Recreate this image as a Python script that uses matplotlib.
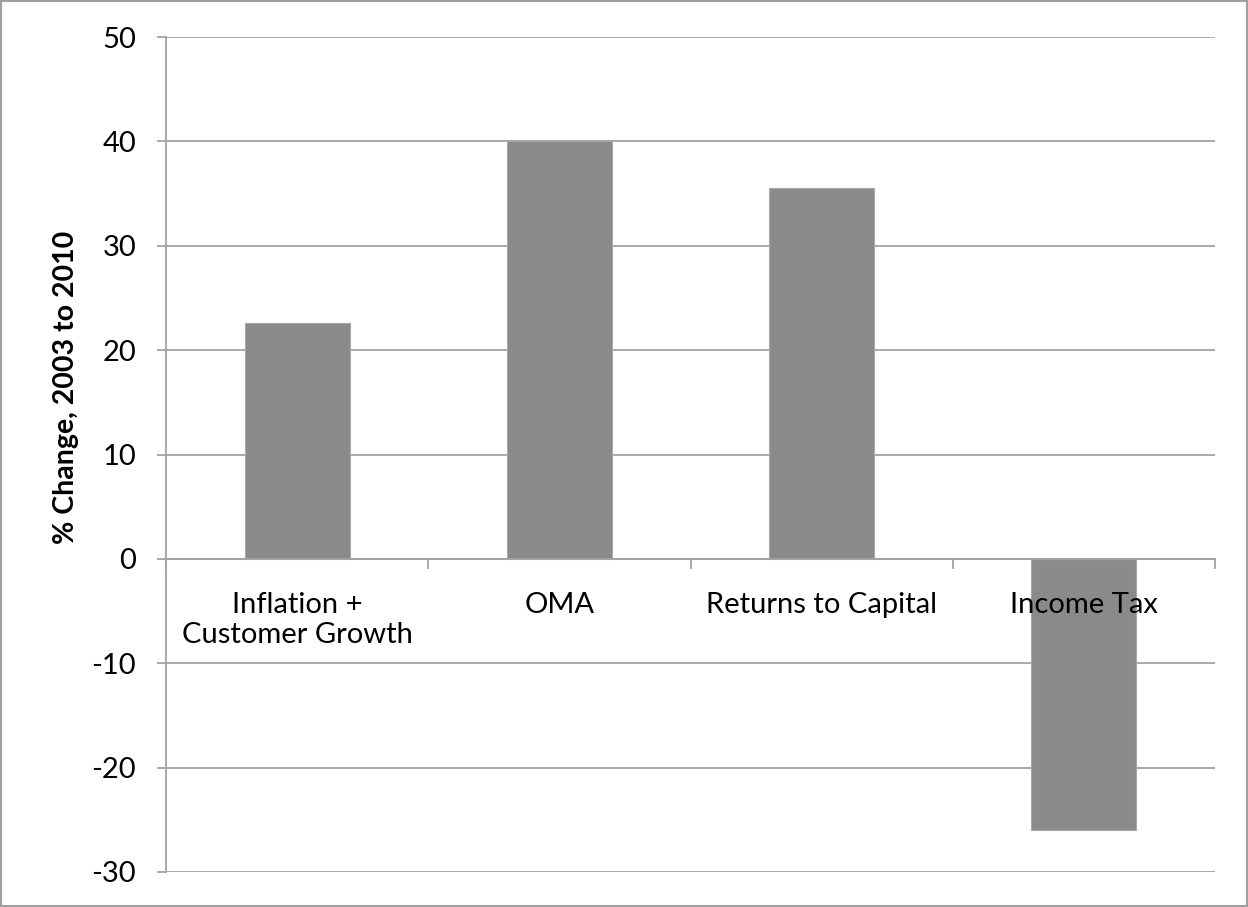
import numpy as np
import matplotlib.pyplot as plt
from matplotlib.patches import Rectangle
from matplotlib.transforms import offset_copy

plt.rcParams['font.family'] = ['Lato', 'DejaVu Sans']
plt.rcParams['axes.unicode_minus'] = False

categories = ['Inflation +\nCustomer Growth', 'OMA', 'Returns to Capital', 'Income Tax']
pct_change = [22.6, 40.0, 35.5, -26.0]
y_ticks = [-30, -20, -10, 0, 10, 20, 30, 40, 50]

grid_col = '#a3a3a3'
bar_col = '#898a89'

fig = plt.figure(figsize=(12.48, 9.07), dpi=100)
ax = fig.add_axes([166 / 1248, 1 - 872 / 907, (1215 - 166) / 1248, (872 - 37) / 907])

x = np.arange(len(categories))
ax.bar(x, pct_change, width=0.4, color=bar_col, edgecolor='#a8a8a8', linewidth=0.8, zorder=2)

ax.set_xlim(-0.5, len(categories) - 0.5)
ax.set_ylim(y_ticks[0], y_ticks[-1])
ax.set_yticks(y_ticks)
ax.yaxis.grid(True, color=grid_col, linewidth=1.3)
ax.set_axisbelow(True)

# category axis sits on the zero line
for s in ['top', 'right']:
    ax.spines[s].set_visible(False)
ax.spines['bottom'].set_position(('data', 0))
for s in ['left', 'bottom']:
    ax.spines[s].set_color(grid_col)
    ax.spines[s].set_linewidth(1.3)

ax.set_xticks(np.arange(len(categories) + 1) - 0.5)
ax.set_xticklabels([])
ax.tick_params(axis='x', direction='out', length=7, width=1.3, color=grid_col)
ax.tick_params(axis='y', direction='out', length=6.5, width=1.3, color=grid_col,
               labelsize=21, pad=15)

# category names drawn on top of the bars
label_tr = offset_copy(ax.transData, fig=fig, x=0, y=-24, units='points')
for xi, name in zip(x, categories):
    ax.text(xi, 0, name, transform=label_tr, ha='center', va='top', fontsize=21,
            linespacing=1.18, zorder=5)

fig.text(66 / 1248, 1 - 387 / 907, '% Change, 2003 to 2010', rotation=90,
         fontsize=20.5, fontweight='bold', ha='center', va='center')

fig.patches.append(Rectangle((0.001, 0.001), 0.998, 0.998, transform=fig.transFigure,
                             fill=False, edgecolor='#a0a0a0', linewidth=1.5))

fig.savefig('out.png', dpi=100)
